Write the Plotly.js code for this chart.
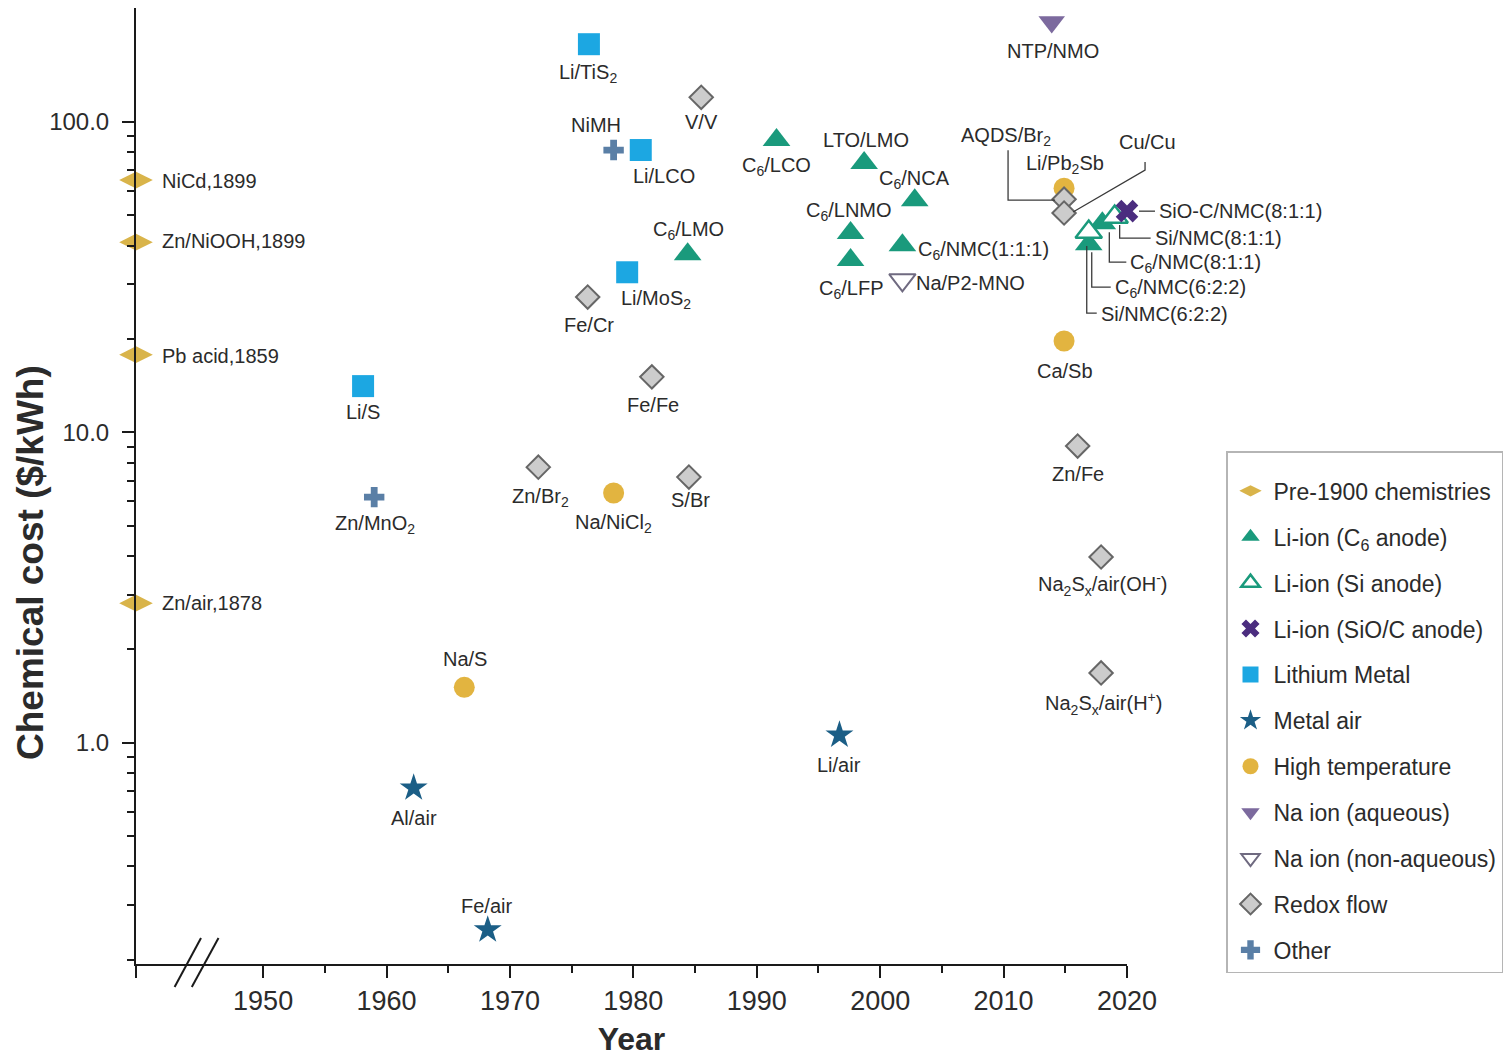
<!DOCTYPE html>
<html><head><meta charset="utf-8">
<script src="https://cdn.plot.ly/plotly-3.0.1.min.js"></script>
<style>html,body{margin:0;padding:0;background:#fff}#chart{width:1511px;height:1057px}</style>
</head><body><div id="chart"></div>
<script>
// ---------------- DATA ----------------
const PRE_X = 1939.7; // position of the axis break, where pre-1900 chemistries sit
const preNames = ['NiCd,1899', 'Zn/NiOOH,1899', 'Pb acid,1859', 'Zn/air,1878'];
const preCost  = [65.0, 41.0, 17.8, 2.82];

const c6Names = ['C<sub>6</sub>/LCO', 'LTO/LMO', 'C<sub>6</sub>/NCA', 'C<sub>6</sub>/LNMO', 'C<sub>6</sub>/LFP',
                 'C<sub>6</sub>/NMC(1:1:1)', 'C<sub>6</sub>/LMO', 'C<sub>6</sub>/NMC(8:1:1)', 'C<sub>6</sub>/NMC(6:2:2)'];
const c6Year  = [1991.6, 1998.7, 2002.8, 1997.6, 1997.6, 2001.8, 1984.4, 2018.0, 2016.9];
const c6Cost  = [87.4, 73.7, 56.0, 43.9, 35.9, 40.1, 37.5, 47.2, 40.4];

const siNames = ['Si/NMC(8:1:1)', 'Si/NMC(6:2:2)'];
const siYear  = [2019.0, 2016.9];
const siCost  = [49.4, 44.2];

const sioNames = ['SiO-C/NMC(8:1:1)'];
const sioYear  = [2020.0];
const sioCost  = [51.6];

const limNames = ['Li/TiS<sub>2</sub>', 'Li/LCO', 'Li/MoS<sub>2</sub>', 'Li/S'];
const limYear  = [1976.4, 1980.6, 1979.5, 1958.1];
const limCost  = [178, 81.2, 32.8, 14.1];

const airNames = ['Al/air', 'Fe/air', 'Li/air'];
const airYear  = [1962.2, 1968.2, 1996.7];
const airCost  = [0.716, 0.25, 1.06];

const htNames = ['Na/S', 'Na/NiCl<sub>2</sub>', 'Li/Pb<sub>2</sub>Sb', 'Ca/Sb'];
const htYear  = [1966.3, 1978.4, 2014.9, 2014.9];
const htCost  = [1.51, 6.38, 61.2, 19.7];

const naAqNames = ['NTP/NMO'];
const naAqYear  = [2013.9];
const naAqCost  = [210];

const naNaqNames = ['Na/P2-MNO'];
const naNaqYear  = [2001.8];
const naNaqCost  = [31.0];

const rfNames = ['V/V', 'Fe/Cr', 'Fe/Fe', 'Zn/Br<sub>2</sub>', 'S/Br', 'AQDS/Br<sub>2</sub>', 'Cu/Cu', 'Zn/Fe',
                 'Na<sub>2</sub>S<sub>x</sub>/air(OH<sup>-</sup>)', 'Na<sub>2</sub>S<sub>x</sub>/air(H<sup>+</sup>)'];
const rfYear  = [1985.5, 1976.3, 1981.5, 1972.3, 1984.5, 2014.9, 2014.9, 2016.0, 2017.9, 2017.9];
const rfCost  = [120, 27.3, 15.1, 7.73, 7.18, 56.4, 50.9, 9.04, 3.97, 1.68];

const otherNames = ['NiMH', 'Zn/MnO<sub>2</sub>'];
const otherYear  = [1978.4, 1959.0];
const otherCost  = [81.2, 6.19];

const xTickVals = [PRE_X, 1950, 1960, 1970, 1980, 1990, 2000, 2010, 2020];
const xTickText = ['', '1950', '1960', '1970', '1980', '1990', '2000', '2010', '2020'];
const xMinorVals = [1955, 1965, 1975, 1985, 1995, 2005, 2015];
const yTickVals = [1, 10, 100];
const yTickText = ['1.0', '10.0', '100.0'];
const yMinorVals = [0.2, 0.3, 0.4, 0.5, 0.6, 0.7, 0.8, 0.9, 2, 3, 4, 5, 6, 7, 8, 9, 20, 30, 40, 50, 60, 70, 80, 90];

// ---------------- LAYOUT CONSTANTS ----------------
const X_RANGE = [PRE_X, 2020];
const Y_RANGE = [-0.712, 2.367];
const M = {l: 136, r: 384, t: 8, b: 93};
const W = 1511, H = 1057;
const PW = W - M.l - M.r, PH = H - M.t - M.b;
const FONT = 'Liberation Sans, Arial, Helvetica, sans-serif';
const TXT = '#2b2b2b';

// label offsets in screen px: [dx, dy(down), anchor]
const labelPos = {
  'NiCd,1899': [24, 1, 'left'], 'Zn/NiOOH,1899': [24, -1, 'left'], 'Pb acid,1859': [24, 1, 'left'], 'Zn/air,1878': [24, 0, 'left'],
  'C<sub>6</sub>/LCO': [0, 26, 'center'], 'LTO/LMO': [2, -23, 'center'], 'C<sub>6</sub>/NCA': [0, -21, 'center'],
  'C<sub>6</sub>/LNMO': [-2, -21, 'center'], 'C<sub>6</sub>/LFP': [1, 29, 'center'], 'C<sub>6</sub>/NMC(1:1:1)': [14, 5, 'left'],
  'C<sub>6</sub>/LMO': [1, -24, 'center'], 'C<sub>6</sub>/NMC(8:1:1)': [26, 40, 'left'], 'C<sub>6</sub>/NMC(6:2:2)': [24, 44, 'left'],
  'Si/NMC(8:1:1)': [38, 21, 'left'], 'Si/NMC(6:2:2)': [10, 82, 'left'], 'SiO-C/NMC(8:1:1)': [30, 0, 'left'],
  'Li/TiS<sub>2</sub>': [-1, 29, 'center'], 'Li/LCO': [23, 26, 'center'], 'Li/MoS<sub>2</sub>': [29, 27, 'center'], 'Li/S': [0, 26, 'center'],
  'Al/air': [0, 30, 'center'], 'Fe/air': [-1, -24, 'center'], 'Li/air': [0, 30, 'center'],
  'Na/S': [1, -28, 'center'], 'Na/NiCl<sub>2</sub>': [0, 30, 'center'], 'Li/Pb<sub>2</sub>Sb': [1, -24, 'center'], 'Ca/Sb': [1, 30, 'center'],
  'NTP/NMO': [1, 29, 'center'], 'Na/P2-MNO': [12, 3, 'left'],
  'V/V': [0, 25, 'center'], 'Fe/Cr': [1, 28, 'center'], 'Fe/Fe': [1, 28, 'center'], 'Zn/Br<sub>2</sub>': [2, 30, 'center'],
  'S/Br': [2, 23, 'center'], 'AQDS/Br<sub>2</sub>': [-58, -63, 'center'], 'Cu/Cu': [83, -71, 'center'], 'Zn/Fe': [0, 28, 'center'],
  'Na<sub>2</sub>S<sub>x</sub>/air(OH<sup>-</sup>)': [2, 27, 'center'], 'Na<sub>2</sub>S<sub>x</sub>/air(H<sup>+</sup>)': [2, 31, 'center'],
  'NiMH': [-18, -25, 'center'], 'Zn/MnO<sub>2</sub>': [1, 27, 'center']
};

// leader line paths, offsets in screen px from the point
const leaders = {
  'Si/NMC(8:1:1)': [[5, 8], [5, 21], [36, 21]],
  'C<sub>6</sub>/NMC(8:1:1)': [[7, 9], [7, 39], [24, 39]],
  'C<sub>6</sub>/NMC(6:2:2)': [[3, 8], [3, 43], [22, 43]],
  'Si/NMC(6:2:2)': [[-2, 14], [-2, 81], [8, 81]],
  'SiO-C/NMC(8:1:1)': [[12, 0], [28, 0]],
  'AQDS/Br<sub>2</sub>': [[-9, 1], [-56, 1], [-56, -49]],
  'Cu/Cu': [[9, -1], [81, -43], [81, -51]]
};

// ---------------- TRACES ----------------
const series = [
  {name: 'Pre-1900 chemistries', names: preNames, x: preNames.map(() => PRE_X), y: preCost,
   marker: {symbol: 'diamond-wide', size: 24, color: '#d9b44a', line: {width: 0}}},
  {name: 'Li-ion (C<sub>6</sub> anode)', names: c6Names, x: c6Year, y: c6Cost,
   marker: {symbol: 'triangle-up', size: 24, color: '#1a9a7c', line: {width: 0}}},
  {name: 'Li-ion (Si anode)', names: siNames, x: siYear, y: siCost,
   marker: {symbol: 'triangle-up', size: 23, color: '#ffffff', line: {width: 2.5, color: '#1a9a7c'}}},
  {name: 'Li-ion (SiO/C anode)', names: sioNames, x: sioYear, y: sioCost,
   marker: {symbol: 'x', size: 20, color: '#4b2d7f', line: {width: 0}}},
  {name: 'Lithium Metal', names: limNames, x: limYear, y: limCost,
   marker: {symbol: 'square', size: 22, color: '#1ca7e2', line: {width: 0}}},
  {name: 'Metal air', names: airNames, x: airYear, y: airCost,
   marker: {symbol: 'star', size: 21, color: '#1b5e86', line: {width: 0}}},
  {name: 'High temperature', names: htNames, x: htYear, y: htCost,
   marker: {symbol: 'circle', size: 21, color: '#e2b440', line: {width: 0}}},
  {name: 'Na ion (aqueous)', names: naAqNames, x: naAqYear, y: naAqCost,
   marker: {symbol: 'triangle-down', size: 23, color: '#7c6a9e', line: {width: 0}}},
  {name: 'Na ion (non-aqueous)', names: naNaqNames, x: naNaqYear, y: naNaqCost,
   marker: {symbol: 'triangle-down', size: 23, color: '#ffffff', line: {width: 2, color: '#6f6a80'}}},
  {name: 'Redox flow', names: rfNames, x: rfYear, y: rfCost,
   marker: {symbol: 'diamond', size: 18, color: '#cccccc', line: {width: 2, color: '#666666'}}},
  {name: 'Other', names: otherNames, x: otherYear, y: otherCost,
   marker: {symbol: 'cross', size: 17, color: '#5a7fa6', line: {width: 0}}}
];

const traces = series.map((s, i) => ({
  type: 'scatter', mode: 'markers', name: s.name, x: s.x, y: s.y, text: s.names,
  hovertemplate: '%{text}<br>%{x}: %{y} $/kWh<extra></extra>',
  marker: s.marker, cliponaxis: false, legendgroup: 'g' + i
}));

const allPts = {};
series.forEach(s => s.names.forEach((n, i) => { allPts[n] = [s.x[i], s.y[i]]; }));

// leader lines as paper-referenced shapes (not clipped by the plot area),
// computed from each labelled point plus pixel offsets
function toPaper(p, dx, dy) {
  return [(p[0] - X_RANGE[0]) / (X_RANGE[1] - X_RANGE[0]) + dx / PW,
          (Math.log10(p[1]) - Y_RANGE[0]) / (Y_RANGE[1] - Y_RANGE[0]) - dy / PH];
}
const shapes = [];
Object.keys(leaders).forEach(n => {
  const p = allPts[n];
  const pts = leaders[n].map(o => toPaper(p, o[0], o[1]));
  const path = pts.map((q, k) => (k ? 'L' : 'M') + q[0].toFixed(5) + ',' + q[1].toFixed(5)).join(' ');
  shapes.push({type: 'path', xref: 'paper', yref: 'paper', path: path, line: {color: '#3a3a3a', width: 1.3}, fillcolor: 'rgba(0,0,0,0)'});
});

// axis break marks
shapes.push({type: 'line', xref: 'paper', yref: 'paper', x0: 38.6 / PW, x1: 65 / PW,
   y0: -23 / PH, y1: 26 / PH, line: {color: '#1a1a1a', width: 2}});
shapes.push({type: 'line', xref: 'paper', yref: 'paper', x0: 55.8 / PW, x1: 82.5 / PW,
   y0: -23 / PH, y1: 26 / PH, line: {color: '#1a1a1a', width: 2}});

// labels
const annotations = [];
Object.keys(allPts).forEach(n => {
  const p = allPts[n], lp = labelPos[n] || [0, 26, 'center'];
  annotations.push({x: p[0], y: Math.log10(p[1]), xref: 'x', yref: 'y', text: n, showarrow: false,
    xanchor: lp[2], yanchor: 'middle', xshift: lp[0], yshift: -lp[1],
    font: {family: FONT, size: 20, color: TXT}});
});
annotations.push({x: (30 - M.l) / PW, y: (H - M.b - 563) / PH, xref: 'paper', yref: 'paper',
  text: 'Chemical cost ($/kWh)', textangle: -90, showarrow: false, xanchor: 'center', yanchor: 'middle',
  font: {family: FONT, size: 37, color: TXT, weight: 'bold'}});

const layout = {
  width: W, height: H, margin: M, paper_bgcolor: '#ffffff', plot_bgcolor: '#ffffff',
  font: {family: FONT, color: TXT},
  showlegend: true,
  xaxis: {range: X_RANGE, showline: true, linecolor: '#1a1a1a', linewidth: 2, zeroline: false, showgrid: false,
    tickmode: 'array', tickvals: xTickVals, ticktext: xTickText, ticks: 'outside', ticklen: 12, tickwidth: 2,
    tickcolor: '#1a1a1a', tickfont: {family: FONT, size: 27, color: TXT}, ticklabelstandoff: 0,
    minor: {tickmode: 'array', tickvals: xMinorVals, ticks: 'outside', ticklen: 7, tickwidth: 2, tickcolor: '#1a1a1a', showgrid: false},
    title: {text: 'Year', font: {family: FONT, size: 32, color: TXT, weight: 'bold'}, standoff: 14}, automargin: false},
  yaxis: {type: 'log', range: Y_RANGE, showline: true, linecolor: '#1a1a1a', linewidth: 2, zeroline: false, showgrid: false,
    tickmode: 'array', tickvals: yTickVals, ticktext: yTickText, ticks: 'outside', ticklen: 12, tickwidth: 2,
    tickcolor: '#1a1a1a', tickfont: {family: FONT, size: 24, color: TXT}, ticklabelstandoff: 8,
    minor: {tickmode: 'array', tickvals: yMinorVals, ticks: 'outside', ticklen: 7, tickwidth: 2, tickcolor: '#1a1a1a', showgrid: false},
    automargin: false},
  legend: {x: (1226 - M.l) / PW, xanchor: 'left', y: (H - M.b - 451) / PH, yanchor: 'top',
    bgcolor: '#ffffff', bordercolor: '#b5b5b5', borderwidth: 1.5, font: {family: FONT, size: 23, color: TXT},
    tracegroupgap: 13, itemwidth: 36, title: {text: ' ', font: {size: 13}}},
  annotations: annotations, shapes: shapes
};

Plotly.newPlot('chart', traces, layout, {displayModeBar: false, staticPlot: true});
</script>
</body></html>
